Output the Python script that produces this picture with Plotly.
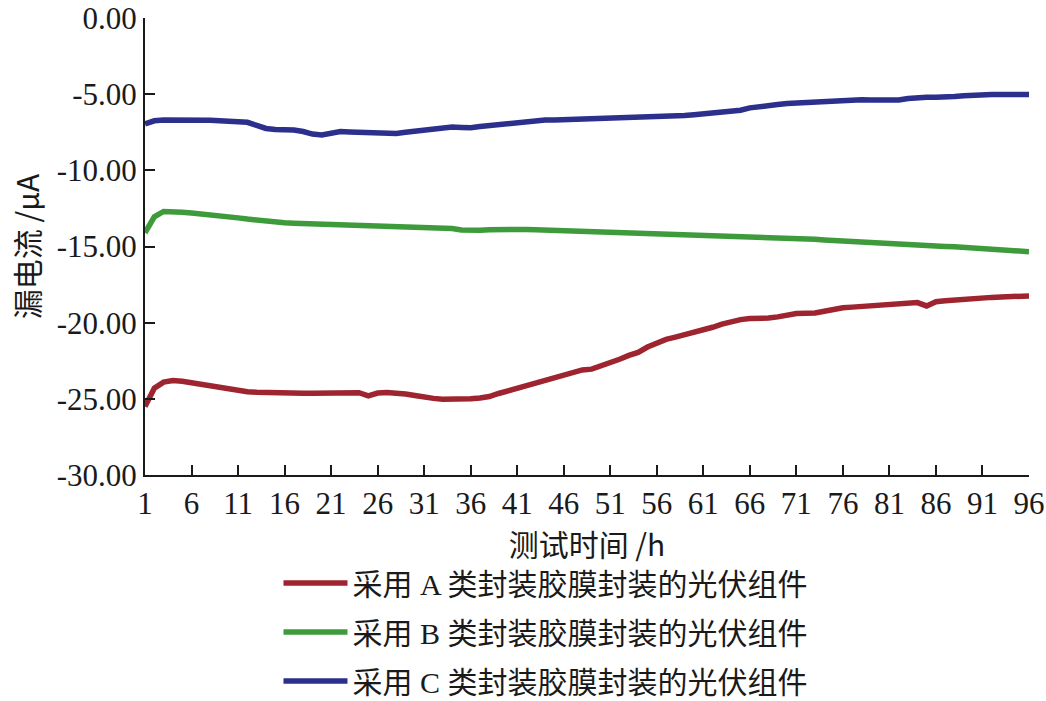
import plotly.graph_objects as go

hours = list(range(1, 97))

series_a = [-25.50, -24.30, -23.90, -23.80, -23.85, -23.95, -24.05, -24.15, -24.28, -24.40,
            -24.48, -24.53, -24.57, -24.60, -24.62, -24.63, -24.64, -24.64, -24.64, -24.64,
            -24.63, -24.62, -24.62, -24.60, -24.80, -24.62, -24.58, -24.60, -24.68, -24.78,
            -24.90, -24.97, -25.02, -25.03, -25.02, -25.00, -24.95, -24.85, -24.65, -24.48,
            -24.32, -24.15, -23.95, -23.75, -23.58, -23.45, -23.25, -23.10, -23.05, -22.85,
            -22.65, -22.40, -22.15, -21.95, -21.60, -21.30, -21.10, -20.95, -20.80, -20.65,
            -20.50, -20.30, -20.10, -19.93, -19.80, -19.72, -19.72, -19.70, -19.62, -19.48,
            -19.40, -19.38, -19.36, -19.25, -19.12, -19.02, -18.98, -18.94, -18.88, -18.84,
            -18.80, -18.76, -18.72, -18.68, -18.90, -18.62, -18.56, -18.50, -18.45, -18.40,
            -18.37, -18.34, -18.31, -18.29, -18.27, -18.25]

series_b = [-14.10, -13.05, -12.70, -12.68, -12.75, -12.80, -12.85, -12.92, -13.00, -13.06,
            -13.12, -13.20, -13.28, -13.35, -13.40, -13.44, -13.47, -13.49, -13.51, -13.52,
            -13.53, -13.54, -13.56, -13.58, -13.60, -13.63, -13.68, -13.70, -13.72, -13.74,
            -13.76, -13.78, -13.79, -13.82, -13.92, -13.95, -13.93, -13.90, -13.88, -13.87,
            -13.87, -13.88, -13.90, -13.92, -13.94, -13.96, -13.98, -14.00, -14.03, -14.05,
            -14.07, -14.09, -14.10, -14.12, -14.13, -14.14, -14.15, -14.18, -14.20, -14.21,
            -14.22, -14.23, -14.25, -14.28, -14.31, -14.33, -14.35, -14.38, -14.41, -14.44,
            -14.47, -14.50, -14.53, -14.57, -14.61, -14.65, -14.69, -14.71, -14.74, -14.76,
            -14.78, -14.81, -14.85, -14.89, -14.93, -14.97, -15.00, -15.02, -15.06, -15.13,
            -15.20, -15.26, -15.29, -15.31, -15.33, -15.34]

series_c = [-6.95, -6.75, -6.70, -6.70, -6.65, -6.65, -6.68, -6.72, -6.75, -6.76,
            -6.78, -6.85, -7.05, -7.25, -7.32, -7.33, -7.35, -7.45, -7.62, -7.68,
            -7.60, -7.45, -7.48, -7.50, -7.52, -7.55, -7.60, -7.58, -7.50, -7.42,
            -7.35, -7.33, -7.22, -7.15, -7.18, -7.20, -7.12, -7.05, -6.98, -6.92,
            -6.88, -6.80, -6.74, -6.70, -6.70, -6.68, -6.65, -6.62, -6.60, -6.58,
            -6.56, -6.54, -6.52, -6.52, -6.50, -6.52, -6.48, -6.44, -6.40, -6.35,
            -6.30, -6.26, -6.22, -6.15, -6.05, -5.90, -5.80, -5.74, -5.68, -5.62,
            -5.58, -5.55, -5.52, -5.50, -5.46, -5.42, -5.38, -5.37, -5.38, -5.40,
            -5.42, -5.38, -5.28, -5.22, -5.20, -5.21, -5.22, -5.15, -5.10, -5.05,
            -5.03, -5.03, -5.02, -5.02, -5.03, -5.03]

names = ["采用 A 类封装胶膜封装的光伏组件",
         "采用 B 类封装胶膜封装的光伏组件",
         "采用 C 类封装胶膜封装的光伏组件"]
colors = ["#9E2430", "#3E9B3C", "#2C2F8C"]

x_ticks = list(range(1, 97, 5))
y_ticks = [0, -5, -10, -15, -20, -25, -30]
y_labels = ["0.00", "-5.00", "-10.00", "-15.00", "-20.00", "-25.00", "-30.00"]

font_main = "Liberation Serif, Times New Roman, Noto Sans CJK SC, serif"
font_cjk = "Noto Sans CJK SC, Liberation Serif"

legend_ids = ["legend", "legend2", "legend3"]
legend_y = [-0.2363, -0.3435, -0.4508]

fig = go.Figure()
for ys, nm, col, lid in zip([series_a, series_b, series_c], names, colors, legend_ids):
    fig.add_trace(go.Scatter(x=hours, y=ys, mode="lines", name=nm,
                             line=dict(color=col, width=5.5),
                             legend=lid))

legend_common = dict(orientation="v", x=0.151, xanchor="left", yanchor="middle",
                     itemwidth=64, bgcolor="rgba(0,0,0,0)",
                     font=dict(family="Liberation Serif, Noto Sans CJK SC", size=30))

fig.update_layout(
    width=1046, height=701,
    margin=dict(l=145, r=17, t=18, b=226, autoexpand=False),
    paper_bgcolor="white", plot_bgcolor="white",
    font=dict(family=font_main, size=31, color="#1a1a1a"),
    showlegend=True,
    legend=dict(y=legend_y[0], **legend_common),
    legend2=dict(y=legend_y[1], **legend_common),
    legend3=dict(y=legend_y[2], **legend_common),
)
fig.update_xaxes(range=[1, 96], tickmode="array", tickvals=x_ticks,
                 ticks="inside", ticklen=10, tickwidth=2, tickcolor="#1a1a1a",
                 showline=True, linecolor="#1a1a1a", linewidth=2,
                 showgrid=False, zeroline=False,
                 title=dict(text="测试时间 /h", standoff=12,
                            font=dict(family=font_cjk, size=30)),
                 tickfont=dict(size=31))
fig.update_yaxes(range=[-30, 0], tickmode="array", tickvals=y_ticks, ticktext=y_labels,
                 ticks="inside", ticklen=10, tickwidth=2, tickcolor="#1a1a1a",
                 showline=True, linecolor="#1a1a1a", linewidth=2,
                 showgrid=False, zeroline=False,
                 title=dict(text="漏电流 /μA", standoff=8,
                            font=dict(family=font_cjk, size=30)),
                 tickfont=dict(size=31))

fig.write_html("out.html")
